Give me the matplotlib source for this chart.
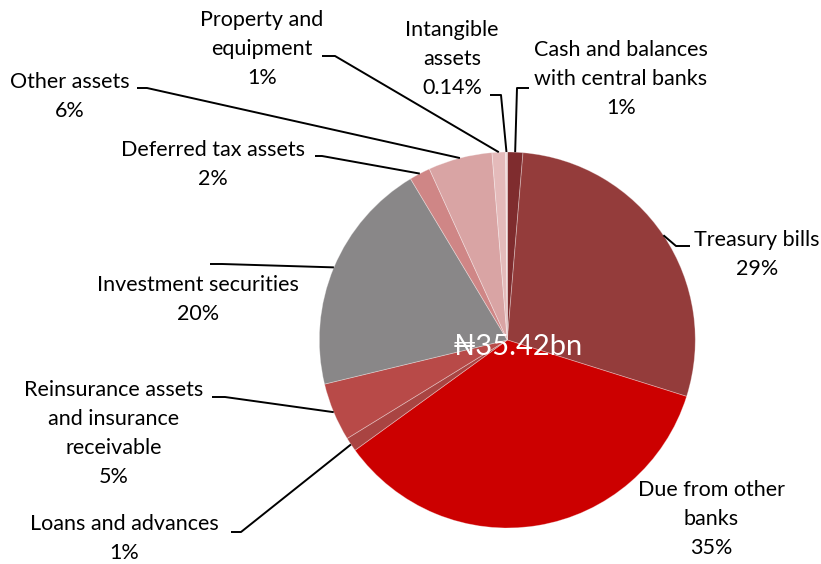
import matplotlib
matplotlib.use("Agg")
import matplotlib.pyplot as plt
import numpy as np

categories = ["Cash and balances\nwith central banks", "Treasury bills", "Due from other\nbanks",
              "Loans and advances", "Reinsurance assets\nand insurance\nreceivable",
              "Investment securities", "Deferred tax assets", "Other assets",
              "Property and\nequipment", "Intangible\nassets"]
values = [1.33, 28.5, 35.15, 1.2, 5.0, 20.15, 1.8, 5.5, 1.16, 0.14]
pct_labels = ["1%", "29%", "35%", "1%", "5%", "20%", "2%", "6%", "1%", "0.14%"]
colors = ["#7f2c2e", "#943c3b", "#cc0000", "#a94442", "#b84a48", "#898788",
          "#cf8686", "#d9a4a4", "#e4baba", "#f0d8d8"]
center_text = "\u20a635.42bn"

plt.rcParams['font.family'] = ['Lato', 'DejaVu Sans']

W, H = 821, 564
fig = plt.figure(figsize=(W / 100, H / 100), dpi=100)
ax = fig.add_axes([0, 0, 1, 1])
cx, cy, R = 507.3, 340.0, 188.0

def px(x, y):
    return ((x - cx) / R, (cy - y) / R)

wedges, _ = ax.pie(values, colors=colors, startangle=90, counterclock=False, radius=1.0,
                   wedgeprops=dict(edgecolor=(1, 1, 1, 0.35), linewidth=0.6))

ax.set_xlim(-cx / R, (W - cx) / R)
ax.set_ylim((cy - H) / R, cy / R)
ax.set_aspect('equal')
ax.axis('off')

# label layout: (text center x, first line y) in pixels, leader elbow points (pixels)
label_pos = {
    0: (621, 50), 1: (757, 240), 2: (711, 490), 3: (124, 524), 4: (114, 390),
    5: (198, 285), 6: (213, 150), 7: (70, 82), 8: (262, 20), 9: (452, 30),
}
leaders = {
    0: [(529, 88), (517, 88)],
    1: [(690, 246), (676, 246)],
    3: [(231, 532), (241, 532)],
    4: [(212, 397), (225, 397)],
    5: [(210, 264), (222, 264)],
    6: [(315, 156), (322, 156)],
    7: [(137, 88), (147, 88)],
    8: [(322, 56), (335, 56)],
    9: [(490, 95), (501, 95)],
}

line_h = 29.0
for i, (lab, pct) in enumerate(zip(categories, pct_labels)):
    tx, ty = label_pos[i]
    lines = (lab + "\n" + pct).split("\n")
    for k, line in enumerate(lines):
        lx, ly = px(tx, ty + k * line_h)
        ax.text(lx, ly, line, ha='center', va='center', fontsize=15.5, color='#000000')
    if i in leaders:
        w = wedges[i]
        mid = np.deg2rad((w.theta1 + w.theta2) / 2)
        ex, ey = np.cos(mid), np.sin(mid)
        pts = [px(*p) for p in leaders[i]] + [(ex, ey)]
        ax.plot([p[0] for p in pts], [p[1] for p in pts], color='black', lw=1.4,
                solid_capstyle='butt')

tx, ty = px(518, 347)
ax.text(tx, ty, center_text, ha='center', va='center', fontsize=21, color='white')

fig.savefig("out.png", dpi=100)
